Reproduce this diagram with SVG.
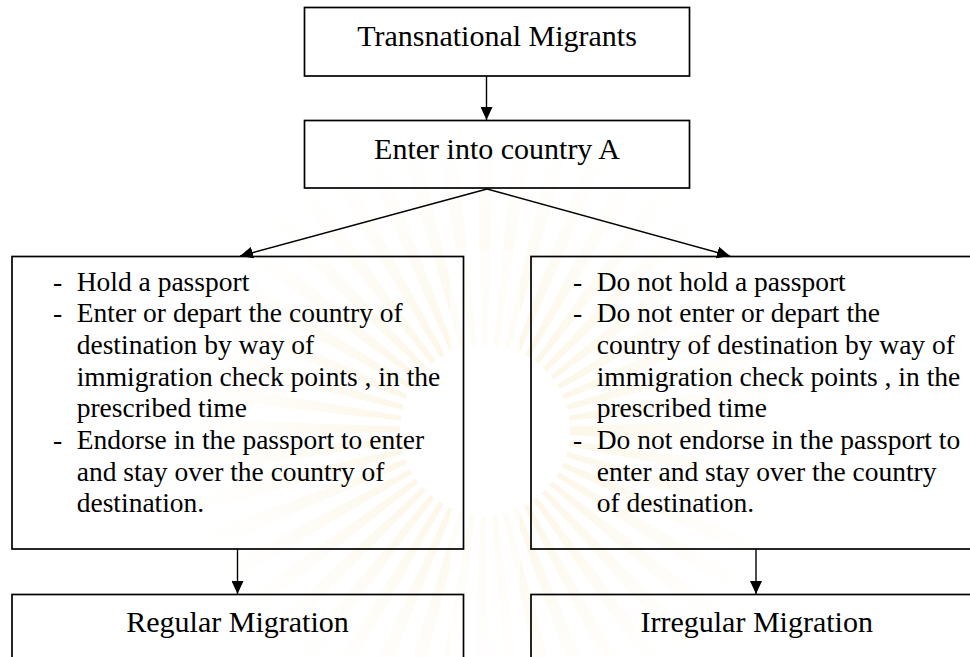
<svg xmlns="http://www.w3.org/2000/svg" width="970" height="657" viewBox="0 0 970 657">
  <style>
    .box { fill: none; stroke: #000; stroke-width: 1.7; }
    .title { font-family: "Liberation Serif", "Times New Roman", serif; font-size: 30px; fill: #000; text-anchor: middle; }
    .body { font-family: "Liberation Serif", "Times New Roman", serif; font-size: 27.5px; fill: #000; }
    .conn { fill: none; stroke: #000; stroke-width: 1.4; marker-end: url(#arrow); }
  </style>
  <defs>
    <marker id="arrow" viewBox="0 0 13 12" refX="13" refY="6" markerWidth="13" markerHeight="12" markerUnits="userSpaceOnUse" orient="auto">
      <path d="M0,0 L13,6 L0,12 z" fill="#000"/>
    </marker>
    <radialGradient id="rays" gradientUnits="userSpaceOnUse" cx="485" cy="430" r="310">
      <stop offset="0.25" stop-color="#f0d790" stop-opacity="0.22"/>
      <stop offset="0.6" stop-color="#f3e0a8" stop-opacity="0.12"/>
      <stop offset="1" stop-color="#f7ecc8" stop-opacity="0"/>
    </radialGradient>
  </defs>
  <rect width="970" height="657" fill="#fff"/>

  <g id="watermark">
    <circle cx="485" cy="430" r="200" fill="none" stroke="url(#rays)" stroke-width="230" stroke-dasharray="12 14"/>
    <rect x="450" y="250" width="70" height="407" fill="#fff" opacity="0.6"/>
  </g>

  <g id="connectors">
    <line class="conn" x1="486.5" y1="76" x2="486.5" y2="120"/>
    <line class="conn" x1="487" y1="189" x2="240" y2="256"/>
    <line class="conn" x1="487" y1="189" x2="730" y2="256"/>
    <line class="conn" x1="237.5" y1="549" x2="237.5" y2="594"/>
    <line class="conn" x1="756" y1="549" x2="756" y2="594"/>
  </g>

  <g id="node-transnational">
    <rect class="box" x="304.5" y="7.5" width="385" height="68.5"/>
    <text class="title" x="497" y="45.7">Transnational Migrants</text>
  </g>

  <g id="node-enter">
    <rect class="box" x="304.5" y="120.5" width="385" height="67.5"/>
    <text class="title" x="497" y="159">Enter into country A</text>
  </g>

  <g id="node-regular-criteria">
    <rect class="box" x="12" y="256.5" width="451.5" height="292.5"/>
    <text class="body" x="53" y="290.7">-</text>
    <text class="body" x="76.7" y="290.7">Hold a passport</text>
    <text class="body" x="53" y="322.3">-</text>
    <text class="body" x="76.7" y="322.3">Enter or depart the country of</text>
    <text class="body" x="76.7" y="354">destination by way of</text>
    <text class="body" x="76.7" y="385.7">immigration check points , in the</text>
    <text class="body" x="76.7" y="417.3">prescribed time</text>
    <text class="body" x="53" y="449">-</text>
    <text class="body" x="76.7" y="449">Endorse in the passport to enter</text>
    <text class="body" x="76.7" y="480.7">and stay over the country of</text>
    <text class="body" x="76.7" y="512.3">destination.</text>
  </g>

  <g id="node-irregular-criteria">
    <rect class="box" x="531" y="256.5" width="450" height="292.5"/>
    <text class="body" x="573" y="290.7">-</text>
    <text class="body" x="596.7" y="290.7">Do not hold a passport</text>
    <text class="body" x="573" y="322.3">-</text>
    <text class="body" x="596.7" y="322.3">Do not enter or depart the</text>
    <text class="body" x="596.7" y="354">country of destination by way of</text>
    <text class="body" x="596.7" y="385.7">immigration check points , in the</text>
    <text class="body" x="596.7" y="417.3">prescribed time</text>
    <text class="body" x="573" y="449">-</text>
    <text class="body" x="596.7" y="449">Do not endorse in the passport to</text>
    <text class="body" x="596.7" y="480.7">enter and stay over the country</text>
    <text class="body" x="596.7" y="512.3">of destination.</text>
  </g>

  <g id="node-regular">
    <rect class="box" x="12" y="594.5" width="451.5" height="80"/>
    <text class="title" x="237.5" y="631.7">Regular Migration</text>
  </g>

  <g id="node-irregular">
    <rect class="box" x="531" y="594.5" width="450" height="80"/>
    <text class="title" x="756.7" y="631.7">Irregular Migration</text>
  </g>
</svg>
